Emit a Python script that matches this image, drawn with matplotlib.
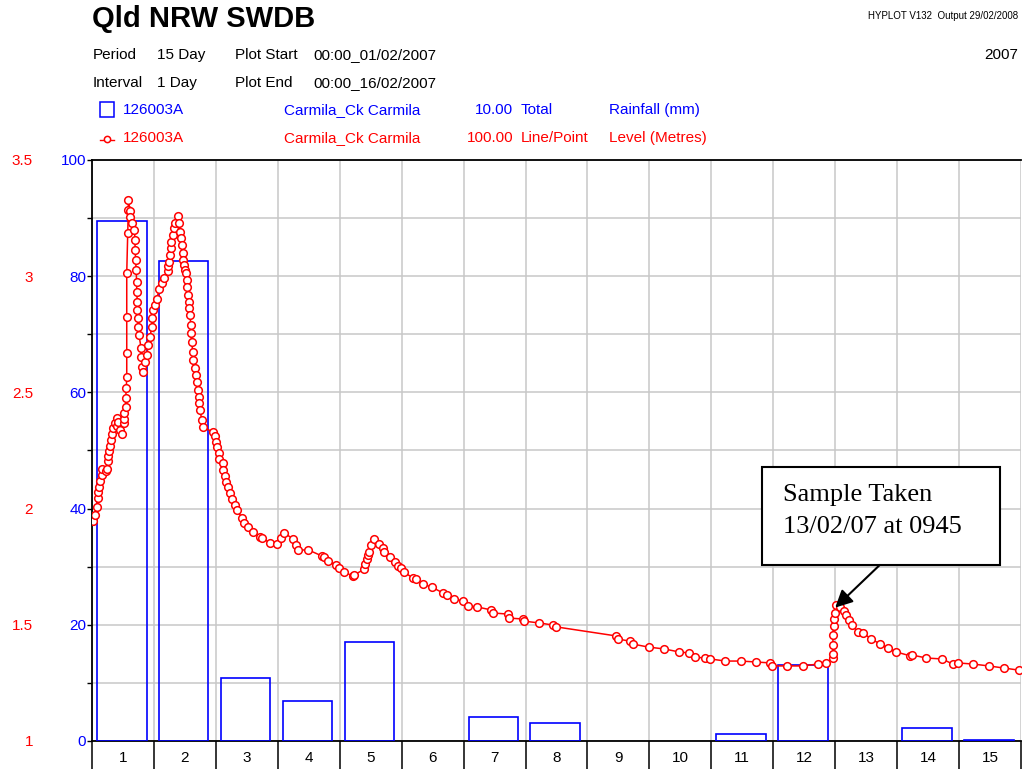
import matplotlib

matplotlib.use("Agg")
import matplotlib.pyplot as plt
from matplotlib.patches import Rectangle

# ---- data ------------------------------------------------------------------
days = list(range(1, 16))
rainfall_mm = [89.5, 82.6, 10.8, 6.9, 17.0, 0, 4.1, 3.1, 0, 0, 1.2, 13.1, 0, 2.2, 0.2]

# time in days since 00:00 01/02/2007, stream level in metres
level_day = [
    0.021, 0.048, 0.076, 0.092, 0.102, 0.113, 0.129, 0.157, 0.166, 0.221,
    0.247, 0.254, 0.263, 0.279, 0.291, 0.307, 0.328, 0.344, 0.372, 0.399,
    0.409, 0.425, 0.452, 0.490, 0.512, 0.522, 0.522, 0.544, 0.544, 0.554,
    0.561, 0.561, 0.561, 0.561, 0.577, 0.586, 0.586, 0.614, 0.614, 0.641,
    0.683, 0.695, 0.695, 0.706, 0.711, 0.722, 0.722, 0.732, 0.732, 0.738,
    0.748, 0.759, 0.792, 0.792, 0.813, 0.819, 0.856, 0.884, 0.910, 0.937,
    0.964, 0.974, 0.990, 1.018, 1.045, 1.087, 1.126, 1.168, 1.223, 1.233,
    1.244, 1.260, 1.271, 1.281, 1.304, 1.325, 1.341, 1.384, 1.410, 1.422,
    1.433, 1.449, 1.465, 1.475, 1.486, 1.502, 1.514, 1.530, 1.540, 1.556,
    1.567, 1.567, 1.583, 1.595, 1.595, 1.611, 1.627, 1.637, 1.664, 1.675,
    1.691, 1.708, 1.733, 1.733, 1.745, 1.772, 1.788, 1.950, 1.987, 2.003,
    2.024, 2.057, 2.057, 2.111, 2.121, 2.149, 2.165, 2.202, 2.229, 2.267,
    2.310, 2.347, 2.418, 2.460, 2.525, 2.596, 2.714, 2.751, 2.876, 2.994,
    3.048, 3.102, 3.252, 3.296, 3.323, 3.494, 3.711, 3.748, 3.817, 3.942,
    3.995, 4.071, 4.212, 4.233, 4.399, 4.410, 4.438, 4.464, 4.480, 4.507,
    4.556, 4.641, 4.696, 4.722, 4.814, 4.895, 4.948, 4.987, 5.040, 5.181,
    5.234, 5.342, 5.488, 5.666, 5.730, 5.853, 5.989, 6.079, 6.215, 6.446,
    6.473, 6.716, 6.725, 6.958, 6.968, 7.221, 7.443, 7.496, 8.465, 8.486,
    8.680, 8.735, 8.987, 9.241, 9.483, 9.633, 9.730, 9.903, 9.984, 10.226,
    10.480, 10.727, 10.953, 10.981, 11.223, 11.475, 11.717, 11.853, 11.966, 11.966,
    11.966, 11.960, 11.976, 11.976, 11.992, 12.019, 12.073, 12.137, 12.181, 12.218,
    12.273, 12.363, 12.451, 12.580, 12.730, 12.855, 12.989, 13.215, 13.243, 13.473,
    13.727, 13.898, 13.979, 14.228, 14.480, 14.722, 14.964,
]
level_m = [
    1.947, 1.972, 2.007, 2.046, 2.071, 2.093, 2.119, 2.145, 2.170, 2.162,
    2.170, 2.205, 2.226, 2.248, 2.269, 2.295, 2.321, 2.347, 2.368, 2.390,
    2.355, 2.373, 2.338, 2.321, 2.368, 2.386, 2.411, 2.437, 2.476, 2.519,
    2.566, 2.670, 2.824, 3.014, 3.186, 3.285, 3.328, 3.281, 3.255, 3.229,
    3.199, 3.156, 3.113, 3.070, 3.027, 2.975, 2.932, 2.889, 2.855, 2.820,
    2.781, 2.747, 2.691, 2.652, 2.609, 2.588, 2.631, 2.661, 2.704, 2.738,
    2.781, 2.820, 2.855, 2.876, 2.902, 2.945, 2.971, 2.992, 3.022, 3.044,
    3.061, 3.091, 3.121, 3.147, 3.177, 3.207, 3.229, 3.259, 3.229, 3.190,
    3.164, 3.134, 3.100, 3.070, 3.048, 3.027, 3.014, 2.984, 2.953, 2.919,
    2.889, 2.863, 2.833, 2.790, 2.756, 2.717, 2.674, 2.639, 2.605, 2.575,
    2.545, 2.510, 2.480, 2.454, 2.424, 2.381, 2.351, 2.330, 2.312, 2.287,
    2.265, 2.239, 2.213, 2.196, 2.166, 2.140, 2.114, 2.093, 2.067, 2.041,
    2.015, 1.994, 1.960, 1.938, 1.921, 1.899, 1.878, 1.873, 1.852, 1.847,
    1.873, 1.895, 1.869, 1.843, 1.822, 1.822, 1.796, 1.792, 1.774, 1.757,
    1.744, 1.727, 1.710, 1.714, 1.740, 1.762, 1.783, 1.800, 1.813, 1.843,
    1.869, 1.847, 1.830, 1.813, 1.792, 1.770, 1.753, 1.744, 1.727, 1.701,
    1.697, 1.675, 1.662, 1.637, 1.628, 1.611, 1.602, 1.581, 1.577, 1.564,
    1.551, 1.546, 1.529, 1.525, 1.516, 1.508, 1.499, 1.491, 1.452, 1.439,
    1.430, 1.417, 1.404, 1.396, 1.383, 1.379, 1.361, 1.357, 1.353, 1.344,
    1.344, 1.340, 1.336, 1.323, 1.323, 1.323, 1.331, 1.336, 1.357, 1.374,
    1.413, 1.456, 1.495, 1.525, 1.551, 1.585, 1.577, 1.559, 1.542, 1.521,
    1.499, 1.469, 1.465, 1.439, 1.417, 1.400, 1.383, 1.366, 1.370, 1.357,
    1.353, 1.331, 1.336, 1.331, 1.323, 1.314, 1.305,
]

rain_ticks = list(range(0, 101, 10))
level_ticks = [1, 1.5, 2, 2.5, 3, 3.5]

BLUE = "#0000ff"
RED = "#ff0000"
GRID = "#c8c8c8"

plt.rcParams["font.family"] = ["Liberation Sans", "DejaVu Sans"]

W, H = 1023, 769
fig = plt.figure(figsize=(W / 100, H / 100), dpi=100)


def ftext(x, y, s, **kw):
    # header text placed in figure pixels (from top-left)
    kw.setdefault("va", "center")
    kw.setdefault("fontsize", 11)
    fig.text(x / W, 1 - y / H, s, **kw)


# ---- header ----------------------------------------------------------------
ftext(92, 19, "Qld NRW SWDB", fontsize=21, fontweight="bold")
ftext(1018, 16, "HYPLOT V132  Output 29/02/2008", fontsize=7, ha="right",
      family=["Liberation Sans Narrow", "Liberation Sans"])
ftext(93, 55, "Period")
ftext(157, 55, "15 Day")
ftext(235, 55, "Plot Start")
ftext(313, 55, "00:00_01/02/2007")
ftext(1018, 55, "2007", ha="right")
ftext(93, 83, "Interval")
ftext(157, 83, "1 Day")
ftext(235, 83, "Plot End")
ftext(313, 83, "00:00_16/02/2007")

for y, col, name, scale, kind, what in [
        (110, BLUE, "126003A", "10.00", "Total", "Rainfall (mm)"),
        (138, RED, "126003A", "100.00", "Line/Point", "Level (Metres)")]:
    ftext(123, y, name, color=col)
    ftext(284, y, "Carmila_Ck Carmila", color=col)
    ftext(513, y, scale, color=col, ha="right")
    ftext(521, y, kind, color=col)
    ftext(609, y, what, color=col)

# legend glyphs
fig.patches.append(Rectangle((100 / W, 1 - 117 / H), 14 / W, 15 / H,
                             transform=fig.transFigure, fill=False,
                             ec=BLUE, lw=1.1))
fig.lines.append(plt.Line2D([100 / W, 114 / W], [1 - 140 / H] * 2,
                            transform=fig.transFigure, color=RED, lw=1.0))
fig.lines.append(plt.Line2D([107 / W], [1 - 139 / H], transform=fig.transFigure,
                            color=RED, marker="o", ms=4.5, mfc="white",
                            mew=1.1))

# ---- axes ------------------------------------------------------------------
ax = fig.add_axes([92 / W, 28 / H, 929 / W, 581 / H])
ax.set_xlim(0, 15)
ax.set_ylim(0, 100)

x0 = [d - 1 + 0.08 for d, r in zip(days, rainfall_mm) if r > 0]
h0 = [r for r in rainfall_mm if r > 0]
ax.bar(x0, h0, width=0.8, align="edge", fill=False, edgecolor=BLUE,
       lw=1.2, zorder=3)

ax.set_xticks(range(0, 16))
ax.set_xticklabels([])
ax.set_xticks([d - 0.5 for d in days], minor=True)
ax.set_xticklabels([str(d) for d in days], minor=True, fontsize=11)
ax.tick_params(axis="x", which="major", direction="out", length=20.5,
               width=1.1, color="black")
ax.tick_params(axis="x", which="minor", length=0, pad=7)

ax.set_yticks(rain_ticks)
ax.set_yticklabels([str(v) if v % 20 == 0 else "" for v in rain_ticks],
                   fontsize=11)
ax.tick_params(axis="y", length=3.6, width=1.0, pad=0.5, labelcolor=BLUE)

ax.grid(True, which="major", color=GRID, lw=1.1, zorder=0)
ax.set_axisbelow(True)
for s in ("left", "bottom", "top"):
    ax.spines[s].set_linewidth(1.3)
ax.spines["right"].set_visible(False)

# level axis shares the frame, labels on the far left
ax2 = ax.twinx()
ax2.set_ylim(1, 3.5)
ax2.set_yticks(level_ticks)
ax2.set_yticklabels([f"{v:g}" for v in level_ticks], fontsize=11)
ax2.yaxis.set_ticks_position("left")
ax2.tick_params(axis="y", length=0, pad=42.5, labelcolor=RED)
for s in ax2.spines.values():
    s.set_visible(False)
ax2.plot(level_day, level_m, color=RED, lw=1.1, marker="o", ms=5.5,
         mfc="white", mec=RED, mew=1.1, zorder=4)

# ---- sample annotation -----------------------------------------------------
ax2.add_patch(Rectangle((0.721, 0.303), 0.256, 0.169,
                        transform=ax2.transAxes, fill=True, fc="white",
                        ec="black", lw=1.5, zorder=6))
ax2.text(0.744, 0.423, "Sample Taken", transform=ax2.transAxes,
         family="Liberation Serif", fontsize=19, va="center", zorder=7)
ax2.text(0.744, 0.368, "13/02/07 at 0945", transform=ax2.transAxes,
         family="Liberation Serif", fontsize=19, va="center", zorder=7)
ax2.annotate("", xy=(12.0, 1.574), xytext=(0.848, 0.303),
             textcoords="axes fraction",
             arrowprops=dict(arrowstyle="-|>", color="black", lw=1.5,
                             mutation_scale=26, shrinkA=0, shrinkB=0),
             zorder=7)

fig.savefig("out.png", dpi=100)
